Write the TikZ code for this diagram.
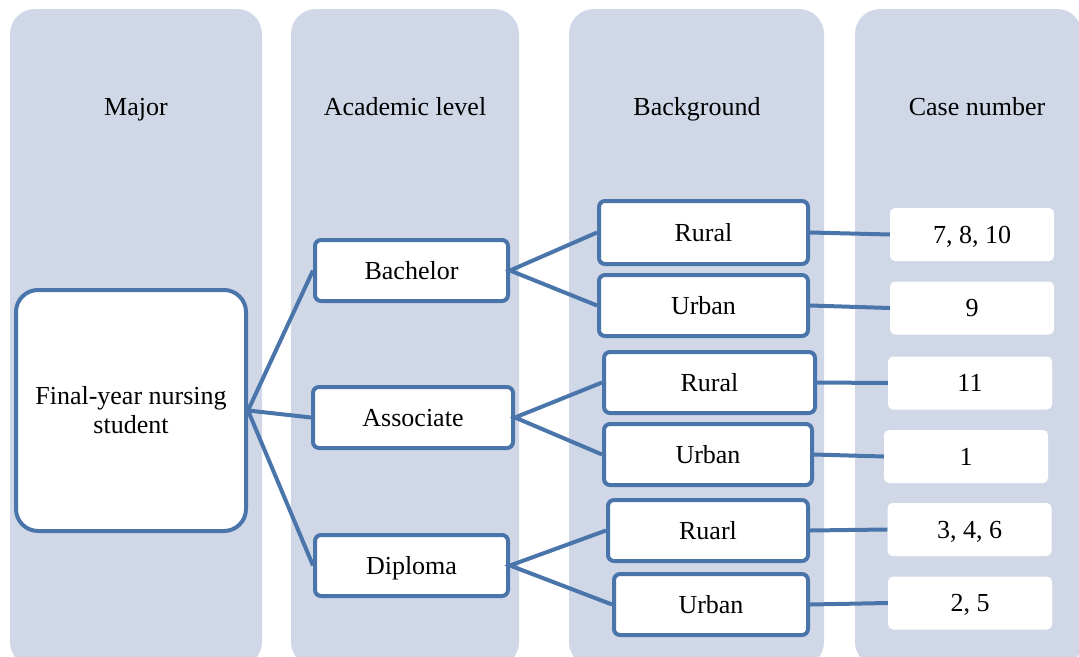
\documentclass[tikz,border=0pt]{standalone}
\usepackage{fontspec}
\setmainfont{Liberation Serif}
\usetikzlibrary{backgrounds}

\definecolor{colfill}{RGB}{208,216,232}
\definecolor{edgeblue}{RGB}{74,117,170}

\tikzset{
  levelbox/.style={rectangle, draw=edgeblue, line width=4pt, fill=white,
                   rounded corners=6pt, text centered, inner sep=0pt,
                   text height=17pt, text depth=0pt},
  casebox/.style={rectangle, fill=white, rounded corners=5pt,
                  text centered, inner sep=0pt, text height=17pt, text depth=0pt,
                  minimum width=164pt, minimum height=53pt},
  colhead/.style={anchor=base},
  link/.style={draw=edgeblue, line width=4pt}
}

\begin{document}
\begin{tikzpicture}[x=1pt,y=-1pt,font=\fontsize{26}{29}\selectfont]
\useasboundingbox (0,0) rectangle (1079,656);

% column headers
\node [colhead] (hmajor) at (136,115) {Major};
\node [colhead] (hlevel) at (405,115) {Academic level};
\node [colhead] (hback) at (697,115) {Background};
\node [colhead] (hcase) at (977,115) {Case number};

% major
\node [levelbox, rounded corners=22pt, minimum width=230pt, minimum height=241pt,
       text height=, text depth=, align=center] (major) at (131,410.5) {Final-year nursing\\ student};

% academic level
\node [levelbox, minimum width=193pt, minimum height=61pt] (bach) at (411.5,270.5) {Bachelor};
\node [levelbox, minimum width=200pt, minimum height=61pt] (assoc) at (413,417.5) {Associate};
\node [levelbox, minimum width=193pt, minimum height=61pt] (dipl) at (411.5,565.5) {Diploma};

% background
\node [levelbox, minimum width=209pt, minimum height=63pt] (rur1) at (703.5,232.5) {Rural};
\node [levelbox, minimum width=209pt, minimum height=61pt] (urb1) at (703.5,305.5) {Urban};
\node [levelbox, minimum width=211pt, minimum height=61pt] (rur2) at (709.5,382.5) {Rural};
\node [levelbox, minimum width=208pt, minimum height=61pt] (urb2) at (708,454.5) {Urban};
\node [levelbox, minimum width=200pt, minimum height=61pt] (rur3) at (708,530.5) {Ruarl};
\node [levelbox, minimum width=194pt, minimum height=61pt] (urb3) at (711,604.5) {Urban};

% case numbers
\node [casebox] (case1) at (972,234.5) {7, 8, 10};
\node [casebox] (case2) at (972,308) {9};
\node [casebox] (case3) at (970,383) {11};
\node [casebox] (case4) at (966,456.5) {1};
\node [casebox] (case5) at (969.5,529.5) {3, 4, 6};
\node [casebox] (case6) at (970,603) {2, 5};

% links
\draw [link] (bach.west) -- (major.east) -- (assoc.west);
\draw [link] (major.east) -- (dipl.west);
\draw [link] (rur1.west) -- (bach.east) -- (urb1.west);
\draw [link] (rur2.west) -- (assoc.east) -- (urb2.west);
\draw [link] (rur3.west) -- (dipl.east) -- (urb3.west);
\draw [link] (rur1.east) -- (case1.west);
\draw [link] (urb1.east) -- (case2.west);
\draw [link] (rur2.east) -- (case3.west);
\draw [link] (urb2.east) -- (case4.west);
\draw [link] (rur3.east) -- (case5.west);
\draw [link] (urb3.east) -- (case6.west);

 \begin{pgfonlayer}{background}
    \clip (0,0) rectangle (1079,656);
    \fill [white] (0,0) rectangle (1079,656);
    \fill [colfill, rounded corners=25pt] (10,9) rectangle (262,667);
    \fill [colfill, rounded corners=25pt] (291,9) rectangle (519,667);
    \fill [colfill, rounded corners=25pt] (569,9) rectangle (824,667);
    \fill [colfill, rounded corners=25pt] (855,9) rectangle (1082,667);
  \end{pgfonlayer}

\end{tikzpicture}
\end{document}
